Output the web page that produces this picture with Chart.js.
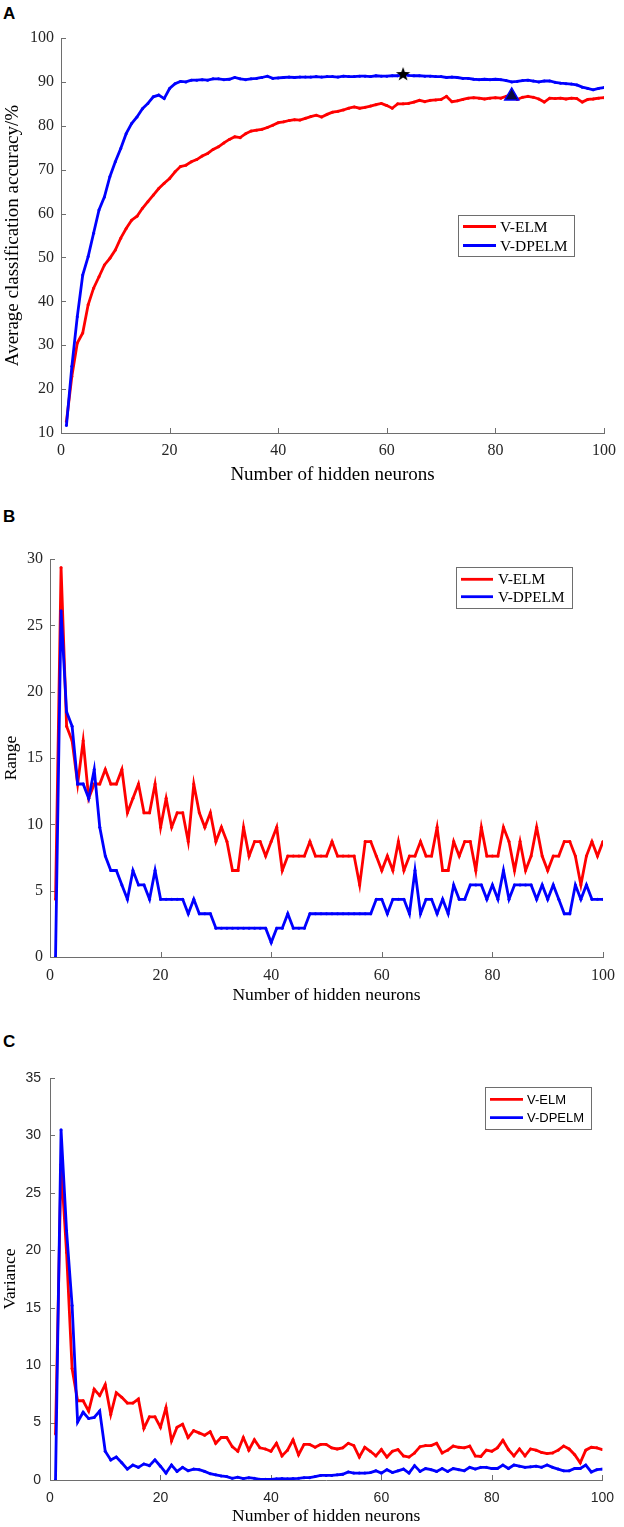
<!DOCTYPE html>
<html>
<head>
<meta charset="utf-8">
<script src="https://cdn.jsdelivr.net/npm/chart.js@4.4.1/dist/chart.umd.min.js"></script>
<style>
body{margin:0;background:#fff;width:624px;height:1527px;position:relative;overflow:hidden}
.panel{position:absolute;left:0;width:624px}
.tag{position:absolute;left:3px;font:bold 17px "Liberation Sans",Arial,sans-serif;line-height:17px;color:#000}
</style>
</head>
<body>
<div class="tag" style="top:5px">A</div>
<div class="tag" style="top:508px">B</div>
<div class="tag" style="top:1033px">C</div>
<div class="panel" style="top:0;height:490px"><canvas id="chartA" width="624" height="490"></canvas></div>
<div class="panel" style="top:490px;height:520px"><canvas id="chartB" width="624" height="520"></canvas></div>
<div class="panel" style="top:1010px;height:517px"><canvas id="chartC" width="624" height="517"></canvas></div>
<script>
// x axis: number of hidden neurons 1..100
const neurons = Array.from({length:100},(v,i)=>i+1);
const xTickValues = [0,20,40,60,80,100];
const accTickValues = [10,20,30,40,50,60,70,80,90,100];
const rangeTickValues = [0,5,10,15,20,25,30];
const varTickValues = [0,5,10,15,20,25,30,35];
const seriesNames = ['V-ELM','V-DPELM'];

// A: average classification accuracy (%)
const accElm = [
12.6,22.9,30.5,32.8,39.2,43.0,45.6,48.3,49.8,51.7,
54.4,56.6,58.5,59.4,61.2,62.7,64.2,65.7,66.9,68.0,
69.5,70.7,71.0,71.8,72.3,73.1,73.7,74.6,75.2,76.1,
76.9,77.5,77.3,78.2,78.8,79.0,79.2,79.6,80.1,80.7,
80.9,81.2,81.4,81.3,81.7,82.1,82.4,82.0,82.6,83.1,
83.3,83.6,84.0,84.3,84.0,84.2,84.5,84.8,85.1,84.6,
84.0,85.0,85.0,85.1,85.4,85.8,85.5,85.8,85.9,86.0,
86.7,85.5,85.7,86.0,86.3,86.4,86.3,86.1,86.3,86.4,
86.3,86.7,87.0,86.0,86.5,86.7,86.5,86.1,85.4,86.3,
86.2,86.3,86.1,86.3,86.2,85.4,86.0,86.1,86.3,86.4];
const accDpelm = [
11.7,25.2,36.5,46.0,50.2,55.5,60.8,63.8,68.4,71.8,
74.8,78.2,80.5,82.0,83.9,85.1,86.6,87.0,86.2,88.5,
89.6,90.1,90.0,90.4,90.4,90.5,90.4,90.7,90.7,90.5,
90.6,91.0,90.7,90.5,90.7,90.8,91.0,91.3,90.8,90.9,
91.0,91.1,91.0,91.1,91.1,91.1,91.2,91.1,91.2,91.2,
91.1,91.3,91.2,91.2,91.3,91.3,91.2,91.4,91.3,91.3,
91.4,91.4,91.7,91.5,91.4,91.4,91.3,91.3,91.2,91.2,
91.0,91.1,91.0,90.8,90.8,90.6,90.5,90.6,90.5,90.6,
90.5,90.3,90.0,90.1,90.3,90.4,90.2,90.0,90.2,90.2,
89.9,89.7,89.6,89.5,89.3,88.8,88.5,88.2,88.5,88.7];
const bestDpelm = [63,91.8];
const bestElm = [83,86.8];

// B: range
const rangeElm = [
4.35,29.35,17.39,16.30,13.04,16.30,11.96,13.04,13.04,14.13,
13.04,13.04,14.13,10.87,11.96,13.04,10.87,10.87,13.04,9.78,
11.96,9.78,10.87,10.87,8.70,13.04,10.87,9.78,10.87,8.70,
9.78,8.70,6.52,6.52,9.78,7.61,8.70,8.70,7.61,8.70,
9.78,6.52,7.61,7.61,7.61,7.61,8.70,7.61,7.61,7.61,
8.70,7.61,7.61,7.61,7.61,5.43,8.70,8.70,7.61,6.52,
7.61,6.52,8.70,6.52,7.61,7.61,8.70,7.61,7.61,9.78,
6.52,6.52,8.70,7.61,8.70,8.70,6.52,9.78,7.61,7.61,
7.61,9.78,8.70,6.52,8.70,6.52,7.61,9.78,7.61,6.52,
7.61,7.61,8.70,8.70,7.61,5.43,7.61,8.70,7.61,8.70];
const rangeDpelm = [
0,26.09,18.48,17.39,13.04,13.04,11.96,14.13,9.78,7.61,
6.52,6.52,5.43,4.35,6.52,5.43,5.43,4.35,6.52,4.35,
4.35,4.35,4.35,4.35,3.26,4.35,3.26,3.26,3.26,2.17,
2.17,2.17,2.17,2.17,2.17,2.17,2.17,2.17,2.17,1.09,
2.17,2.17,3.26,2.17,2.17,2.17,3.26,3.26,3.26,3.26,
3.26,3.26,3.26,3.26,3.26,3.26,3.26,3.26,4.35,4.35,
3.26,4.35,4.35,4.35,3.26,6.52,3.26,4.35,4.35,3.26,
4.35,3.26,5.43,4.35,4.35,5.43,5.43,5.43,4.35,5.43,
4.35,6.52,4.35,5.43,5.43,5.43,5.43,4.35,5.43,4.35,
5.43,4.35,3.26,3.26,5.43,4.35,5.43,4.35,4.35,4.35];

// C: variance
const varElm = [
4.0,27.5,19.8,9.7,6.9,6.9,6.0,7.9,7.35,8.3,
5.7,7.6,7.2,6.7,6.7,7.05,4.5,5.5,5.5,4.6,
6.3,3.4,4.6,4.85,3.7,4.3,4.1,3.9,4.2,3.2,
3.7,3.7,2.9,2.5,3.7,2.6,3.5,2.8,2.7,2.5,
3.2,2.1,2.6,3.5,2.2,3.1,3.1,2.85,3.1,3.1,
2.8,2.7,2.8,3.2,3.0,2.0,2.85,2.5,2.1,2.65,
2.0,2.5,2.65,2.1,2.0,2.35,2.9,3.0,3.0,3.2,
2.35,2.6,2.95,2.85,2.8,2.95,2.1,2.05,2.6,2.5,
2.8,3.45,2.65,2.1,2.7,2.1,2.7,2.6,2.4,2.3,
2.35,2.6,2.95,2.7,2.2,1.5,2.6,2.85,2.8,2.65];
const varDpelm = [
0,30.5,21.7,15.2,5.05,5.9,5.35,5.45,6.0,2.5,
1.75,2.0,1.5,0.95,1.3,1.1,1.4,1.25,1.75,1.2,
0.6,1.3,0.75,1.1,0.8,0.95,0.9,0.75,0.55,0.45,
0.35,0.3,0.15,0.25,0.12,0.2,0.15,0.06,0.06,0.05,
0.1,0.12,0.1,0.12,0.15,0.2,0.2,0.3,0.4,0.4,
0.4,0.45,0.5,0.7,0.6,0.6,0.6,0.65,0.8,0.6,
0.9,0.65,0.8,0.95,0.6,1.25,0.75,1.0,0.9,0.75,
1.0,0.75,1.0,0.9,0.8,1.1,0.95,1.1,1.1,1.0,
1.0,1.3,1.0,1.3,1.2,1.1,1.15,1.2,1.1,1.3,
1.1,0.95,0.8,0.8,1.0,1.0,1.3,0.7,0.9,0.95];

const RED = '#ff0000';
const BLUE = '#0000ff';
const AXIS = '#6e6e6e';
const LABEL = '#262626';
const SERIF = '"Liberation Serif","Times New Roman",serif';
const SANS = '"Liberation Sans",Arial,sans-serif';

function pairs(values){
    return neurons.map((n,i)=>({x:n,y:values[i]}));
}

function lineSet(label,color,values,order){
    return {
        label:label,
        data:pairs(values),
        borderColor:color,
        backgroundColor:color,
        borderWidth:2.8,
        pointRadius:1.5,
        pointBorderWidth:0,
        pointBackgroundColor:color,
        tension:0,
        order:order
    };
}

function starImage(){
    const c = document.createElement('canvas');
    c.width = 16; c.height = 16;
    const g = c.getContext('2d');
    g.beginPath();
    for(let i=0;i<10;i++){
        const r = i%2===0 ? 7.5 : 3;
        const a = -Math.PI/2 + i*Math.PI/5;
        g.lineTo(8 + r*Math.cos(a), 8.5 + r*Math.sin(a));
    }
    g.closePath();
    g.fillStyle = '#000';
    g.fill();
    return c;
}

// MATLAB style ticks pointing into the plot
const inwardTicks = {
    id:'inwardTicks',
    beforeDatasetsDraw(chart){
        const ctx = chart.ctx;
        const a = chart.chartArea;
        const sx = chart.scales.x, sy = chart.scales.y;
        ctx.save();
        ctx.strokeStyle = AXIS;
        ctx.lineWidth = 1;
        sx.ticks.forEach(t=>{
            const px = Math.round(sx.getPixelForValue(t.value))+0.5;
            ctx.beginPath();
            ctx.moveTo(px,a.bottom);
            ctx.lineTo(px,a.bottom-5);
            ctx.stroke();
        });
        sy.ticks.forEach(t=>{
            const py = Math.round(sy.getPixelForValue(t.value))+0.5;
            ctx.beginPath();
            ctx.moveTo(a.left,py);
            ctx.lineTo(a.left+5,py);
            ctx.stroke();
        });
        ctx.restore();
    }
};

// boxed legend placed like the MATLAB one
const boxLegend = {
    id:'boxLegend',
    afterDraw(chart,args,opts){
        if(!opts || !opts.box) return;
        const ctx = chart.ctx;
        const b = opts.box;
        ctx.save();
        ctx.fillStyle = '#fff';
        ctx.fillRect(b[0],b[1],b[2],b[3]);
        ctx.strokeStyle = AXIS;
        ctx.lineWidth = 1;
        ctx.strokeRect(b[0]+0.5,b[1]+0.5,b[2],b[3]);
        const sets = chart.data.datasets.filter(d=>d.inLegend);
        sets.forEach((d,i)=>{
            const y = opts.rows[i];
            ctx.strokeStyle = d.borderColor;
            ctx.lineWidth = 2.8;
            ctx.beginPath();
            ctx.moveTo(opts.line[0],y);
            ctx.lineTo(opts.line[1],y);
            ctx.stroke();
            ctx.fillStyle = d.borderColor;
            ctx.font = opts.font;
            ctx.textBaseline = 'middle';
            ctx.fillStyle = '#000';
            ctx.fillText(d.label,opts.textX,y+1);
        });
        ctx.restore();
    }
};

function makeChart(id,cfg){
    const datasets = cfg.datasets;
    return new Chart(document.getElementById(id),{
        type:'line',
        data:{datasets:datasets},
        plugins:[inwardTicks,boxLegend],
        options:{
            responsive:false,
            animation:false,
            layout:{padding:{top:cfg.top,right:cfg.right,left:0,bottom:0}},
            plugins:{
                legend:{display:false},
                tooltip:{enabled:false},
                boxLegend:cfg.legend
            },
            scales:{
                x:{
                    type:'linear',
                    min:0,
                    max:100,
                    afterBuildTicks:s=>{ s.ticks = xTickValues.map(v=>({value:v})); },
                    afterFit:s=>{ s.height = cfg.xHeight; },
                    grid:{display:false,drawTicks:false},
                    border:{display:true,color:AXIS,width:1},
                    ticks:{color:LABEL,font:{family:cfg.tickFamily,size:cfg.tickSize},padding:cfg.xPad,maxRotation:0},
                    title:{display:true,text:'Number of hidden neurons',color:'#000',
                        font:{family:SERIF,size:cfg.titleSize,lineHeight:1.2},
                        padding:{top:0,bottom:cfg.xTitlePad}}
                },
                y:{
                    type:'linear',
                    min:cfg.yTicks[0],
                    max:cfg.yTicks[cfg.yTicks.length-1],
                    afterBuildTicks:s=>{ s.ticks = cfg.yTicks.map(v=>({value:v})); },
                    afterFit:s=>{ s.width = cfg.left; },
                    grid:{display:false,drawTicks:false},
                    border:{display:true,color:AXIS,width:1},
                    ticks:{color:LABEL,font:{family:cfg.tickFamily,size:cfg.tickSize},padding:cfg.yPad},
                    title:{display:true,text:cfg.yTitle,color:'#000',
                        font:{family:SERIF,size:cfg.titleSize,lineHeight:1.2},
                        padding:{top:cfg.yTitlePad,bottom:0}}
                }
            }
        }
    });
}

const elmA = lineSet(seriesNames[0],RED,accElm,3);
elmA.inLegend = true;
const dpA = lineSet(seriesNames[1],BLUE,accDpelm,2);
dpA.inLegend = true;

makeChart('chartA',{
    top:38, right:17, left:61, xHeight:57,
    yTicks:accTickValues,
    yTitle:'Average classification accuracy/%',
    tickFamily:SERIF, tickSize:16, titleSize:19,
    xPad:8, yPad:7, xTitlePad:4, yTitlePad:2,
    legend:{box:[458,215,116,41],rows:[226.5,245.5],line:[463,496],textX:500,font:'15.5px '+SERIF},
    datasets:[
        {label:'best V-DPELM',data:[{x:bestDpelm[0],y:bestDpelm[1]}],showLine:false,
         pointStyle:starImage(),pointRadius:8,order:0},
        {label:'best V-ELM',data:[{x:bestElm[0],y:bestElm[1]}],showLine:false,
         pointStyle:'triangle',pointRadius:8,pointBackgroundColor:'#0b0b40',
         pointBorderColor:BLUE,pointBorderWidth:1.5,order:1},
        elmA,dpA
    ]
});

const elmB = lineSet(seriesNames[0],RED,rangeElm,2);
elmB.inLegend = true;
const dpB = lineSet(seriesNames[1],BLUE,rangeDpelm,1);
dpB.inLegend = true;

makeChart('chartB',{
    top:69, right:17, left:50, xHeight:53,
    yTicks:rangeTickValues,
    yTitle:'Range',
    tickFamily:SERIF, tickSize:16, titleSize:17.5,
    xPad:9, yPad:7, xTitlePad:4, yTitlePad:1,
    legend:{box:[456,77,116,41],rows:[89.3,106.7],line:[461,493],textX:498,font:'15.3px '+SERIF},
    datasets:[elmB,dpB]
});

const elmC = lineSet(seriesNames[0],RED,varElm,2);
elmC.inLegend = true;
const dpC = lineSet(seriesNames[1],BLUE,varDpelm,1);
dpC.inLegend = true;

makeChart('chartC',{
    top:68, right:16, left:50, xHeight:47,
    yTicks:varTickValues,
    yTitle:'Variance',
    tickFamily:SANS, tickSize:14, titleSize:17.5,
    xPad:10, yPad:9, xTitlePad:0, yTitlePad:0,
    legend:{box:[485,77,106,42],rows:[89.3,107.7],line:[490,523],textX:527,font:'13px '+SANS},
    datasets:[elmC,dpC]
});
</script>
</body>
</html>
